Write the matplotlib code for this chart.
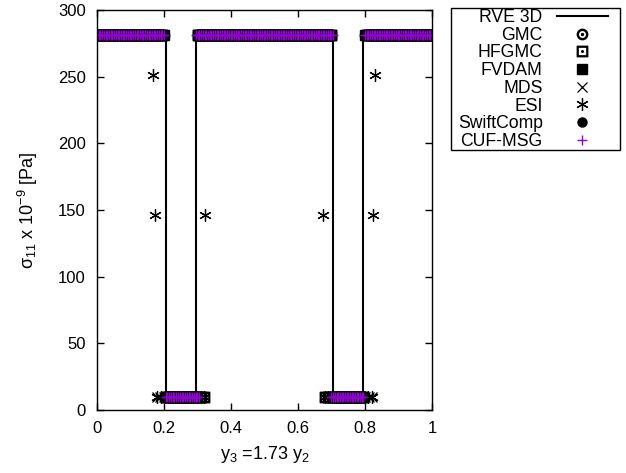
import numpy as np
import matplotlib
matplotlib.use("Agg")
import matplotlib.pyplot as plt
from matplotlib.patches import Rectangle

plt.rcParams['font.family'] = ['Liberation Sans', 'DejaVu Sans']
plt.rcParams['mathtext.default'] = 'regular'
plt.rcParams['font.size'] = 12

# ---------------- data ----------------
HIGH = 281.0   # stress level in the stiff phase
LOW = 10.0     # stress level in the soft phase

# RVE 3D reference line (x, sigma)
rve_x = [0.0, 0.205, 0.205, 0.295, 0.295, 0.705, 0.705, 0.795, 0.795, 1.0]
rve_y = [HIGH, HIGH, LOW, LOW, HIGH, HIGH, LOW, LOW, HIGH, HIGH]

# piecewise-constant segments for each method: (x_start, x_end, level, n_points)
segments_common = [(0.0, 0.200, HIGH, 24), (0.205, 0.295, LOW, 11),
                   (0.300, 0.700, HIGH, 46), (0.705, 0.795, LOW, 11),
                   (0.800, 1.0, HIGH, 24)]
gmc_segments = segments_common
hfgmc_segments = [(0.0, 0.195, HIGH, 20), (0.205, 0.320, LOW, 12),
                  (0.300, 0.700, HIGH, 40), (0.680, 0.795, LOW, 12),
                  (0.805, 1.0, HIGH, 20)]
fvdam_segments = segments_common
mds_segments = [(0.0, 0.195, HIGH, 20), (0.178, 0.300, LOW, 12),
                (0.300, 0.700, HIGH, 40), (0.700, 0.822, LOW, 12),
                (0.805, 1.0, HIGH, 20)]
esi_segments = [(0.0, 0.160, HIGH, 17), (0.180, 0.320, LOW, 14),
                (0.300, 0.700, HIGH, 40), (0.680, 0.820, LOW, 14),
                (0.840, 1.0, HIGH, 17)]
# ESI points at the interfaces (Gibbs-like values)
esi_extra_x = [0.168, 0.173, 0.322, 0.676, 0.825, 0.830]
esi_extra_y = [251.0, 146.0, 146.0, 146.0, 146.0, 251.0]
swift_segments = segments_common
cuf_segments = [(0.0, 0.200, HIGH, 40), (0.205, 0.305, LOW, 20),
                (0.295, 0.705, HIGH, 80), (0.700, 0.795, LOW, 20),
                (0.800, 1.0, HIGH, 40)]

x_ticks = [0, 0.2, 0.4, 0.6, 0.8, 1]
x_tick_labels = ['0', '0.2', '0.4', '0.6', '0.8', '1']
y_ticks = [0, 50, 100, 150, 200, 250, 300]


def sample(segs):
    xs, ys = [], []
    for a, b, lev, n in segs:
        xx = np.linspace(a, b, n)
        xs.extend(xx)
        ys.extend([lev] * n)
    return np.array(xs), np.array(ys)


W, H = 626, 473
fig = plt.figure(figsize=(W / 100, H / 100), dpi=100)
ax = fig.add_axes([97 / W, 1 - 410 / H, (432 - 97) / W, (410 - 10) / H])

ax.plot(rve_x, rve_y, color='black', lw=1.5, label='RVE 3D', zorder=2)

x, y = sample(gmc_segments)
ax.plot(x, y, ls='none', marker=r'$\odot$', ms=7.5, color='black', label='GMC')
x, y = sample(hfgmc_segments)
ax.plot(x, y, ls='none', marker=r'$\boxdot$', ms=7.5, color='black', label='HFGMC')
x, y = sample(fvdam_segments)
ax.plot(x, y, ls='none', marker='s', ms=6.5, color='black', label='FVDAM')
x, y = sample(mds_segments)
ax.plot(x, y, ls='none', marker='x', ms=7, mew=0.9, color='black', label='MDS')
x, y = sample(esi_segments)
x = np.concatenate([x, esi_extra_x])
y = np.concatenate([y, esi_extra_y])
ax.plot(x, y, ls='none', marker=(6, 2, 0), ms=9, mew=0.9, color='black', label='ESI')
x, y = sample(swift_segments)
ax.plot(x, y, ls='none', marker='o', ms=6.5, color='black', label='SwiftComp')
x, y = sample(cuf_segments)
ax.plot(x, y, ls='none', marker='+', ms=7, mew=1.0, color='#9400D3', label='CUF-MSG')

ax.set_xlim(0, 1)
ax.set_ylim(0, 300)
ax.set_xticks(x_ticks)
ax.set_xticklabels(x_tick_labels)
ax.set_yticks(y_ticks)
ax.tick_params(direction='in', length=5, width=1, top=True, right=True,
               labelsize=12, pad=8)
for s in ax.spines.values():
    s.set_linewidth(1.0)
    s.set_color('black')

ax.set_xlabel('y$_3$ =1.73 y$_2$', fontsize=13, labelpad=6)
ax.set_ylabel('σ$_{11}$ x 10$^{-9}$ [Pa]', fontsize=13, labelpad=13)

leg = ax.legend(loc='upper right', bbox_to_anchor=(608 / W, 1 - 9 / H),
                bbox_transform=fig.transFigure, borderaxespad=0,
                markerfirst=False, frameon=False, fontsize=12.7,
                labelspacing=0.04, handlelength=2.9, handletextpad=0.8,
                borderpad=0.0, numpoints=1)

# legend frame (gnuplot-style box)
fig.patches.append(Rectangle((451 / W, 1 - 150 / H), (620 - 451) / W, (150 - 8) / H,
                             transform=fig.transFigure, fill=False,
                             edgecolor='black', linewidth=1.0))

fig.savefig('out.png', dpi=100)
